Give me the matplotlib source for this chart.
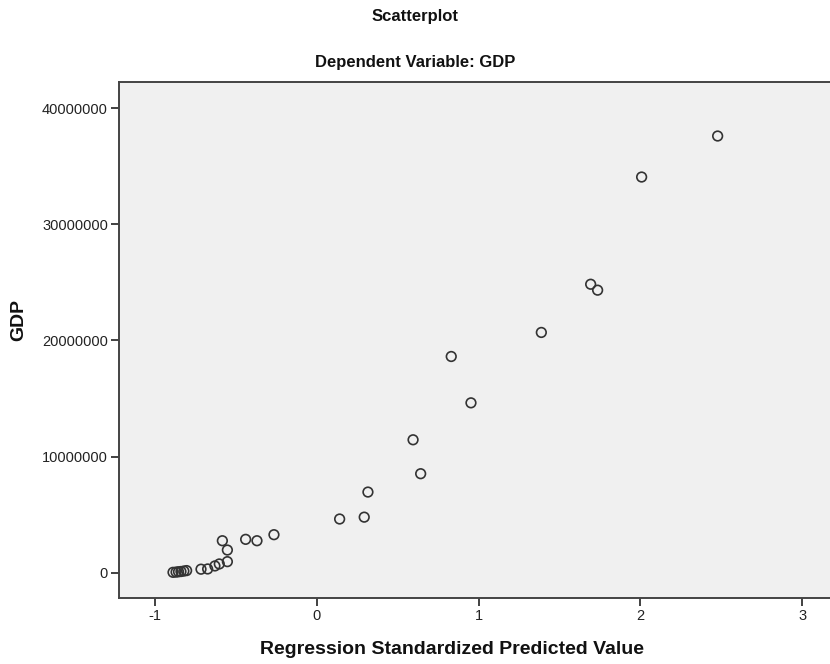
import matplotlib
matplotlib.use("Agg")
import matplotlib.pyplot as plt
from matplotlib.ticker import FuncFormatter

plt.rcParams['font.family'] = ['Liberation Sans', 'DejaVu Sans']
plt.rcParams['axes.unicode_minus'] = False

# Regression standardized predicted value
pred = [-0.889, -0.870, -0.855, -0.840, -0.822, -0.805,
        -0.716, -0.675, -0.630, -0.603, -0.553, -0.553, -0.584,
        -0.440, -0.370, -0.265, 0.141, 0.293, 0.316, 0.595, 0.642,
        0.831, 0.953, 1.388, 1.693, 1.736, 2.008, 2.478]
# GDP (in millions, scaled below)
gdp_m = [0.03, 0.05, 0.08, 0.10, 0.14, 0.18,
         0.30, 0.32, 0.58, 0.75, 0.95, 1.95, 2.75,
         2.87, 2.75, 3.27, 4.62, 4.78, 6.94, 11.44, 8.52,
         18.61, 14.62, 20.68, 24.83, 24.32, 34.06, 37.59]
gdp = [v * 1e6 for v in gdp_m]

xticks = [-1, 0, 1, 2, 3]
yticks = [0, 10000000, 20000000, 30000000, 40000000]

W, H = 830, 664
fig = plt.figure(figsize=(W / 100, H / 100), dpi=100)
fig.patch.set_facecolor('white')
left, right, top, bottom = 119, 832, 82, 598
ax = fig.add_axes([left / W, 1 - bottom / H, (right - left) / W, (bottom - top) / H])
ax.set_facecolor('#F0F0F0')

ax.scatter(pred, gdp, s=48, facecolors='none', edgecolors='#333333', linewidths=1.2, zorder=3)

ax.set_xlim(-1.223, 3.185)
ax.set_ylim(-2.18e6, 42.24e6)
ax.set_xticks(xticks)
ax.set_yticks(yticks)
ax.xaxis.set_major_formatter(FuncFormatter(lambda v, p: f"{int(round(v))}"))
ax.yaxis.set_major_formatter(FuncFormatter(lambda v, p: f"{int(round(v))}"))
ax.tick_params(axis='both', direction='out', length=6, width=1.3, color='#333333',
               labelsize=10.5, labelcolor='#222222', pad=2)
for side in ['left', 'bottom', 'top', 'right']:
    ax.spines[side].set_color('#444444')
    ax.spines[side].set_linewidth(1.4)

fig.text(415 / W, 1 - 17 / H, 'Scatterplot', ha='center', va='center',
         fontsize=12, fontweight='bold', color='#111111')
fig.text(415 / W, 1 - 62 / H, 'Dependent Variable: GDP', ha='center', va='center',
         fontsize=12, fontweight='bold', color='#111111')
fig.text(452 / W, 1 - 650 / H, 'Regression Standardized Predicted Value', ha='center', va='center',
         fontsize=14, fontweight='bold', color='#111111')
fig.text(19 / W, 1 - 320 / H, 'GDP', ha='center', va='center', rotation=90,
         fontsize=14, fontweight='bold', color='#111111')

fig.savefig('out.png', dpi=100)
